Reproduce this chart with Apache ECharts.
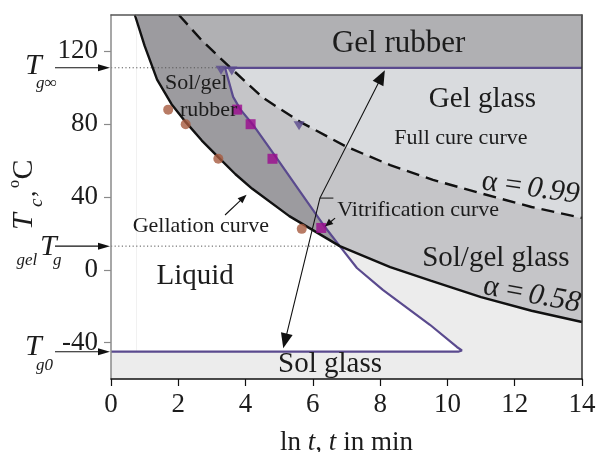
<!DOCTYPE html>
<html>
<head>
<meta charset="utf-8">
<script src="https://cdn.jsdelivr.net/npm/echarts@6.0.0/dist/echarts.min.js"></script>
<style>
  html, body { margin: 0; padding: 0; background: #ffffff; }
  #chart { width: 597px; height: 452px; }
</style>
</head>
<body>
<div id="chart"></div>
<script>
// ---- axis ticks ----
const xTicks = [0, 2, 4, 6, 8, 10, 12, 14];
const yTicks = [-40, 0, 40, 80, 120];

// ---- characteristic temperatures, °C ----
const T_GINF = 111;
const T_GEL = 13;
const T_G0 = -45;

// ---- curves: [ln t, T] ----
const gelationCurve = [
  [0.71, 140], [1.0, 123], [1.37, 104.5], [1.8, 91], [2.23, 81], [2.7, 71],
  [3.18, 62], [3.7, 52.5], [4.2, 44.5], [5.3, 29.5], [6.8, 13], [8.3, 1.5],
  [9.5, -6], [11.0, -15], [12.5, -22.5], [14, -28.7]
];
const fullCureCurve = [
  [2.02, 140], [2.7, 126], [3.55, 111], [4.52, 94.5], [5.62, 81.3], [7.0, 67.6],
  [8.3, 57.5], [9.57, 49.4], [11.0, 42], [12.5, 34.5], [14, 28.5]
];
const vitrificationCurve = [
  [14, 111], [3.39, 111], [3.63, 95], [3.85, 88], [4.25, 79], [4.92, 61.5],
  [5.62, 43], [6.36, 23.5], [6.8, 13], [7.31, 1], [8.08, -11], [8.59, -18],
  [9.48, -30.2], [10.28, -42.4], [10.43, -44.3], [10.32, -45], [0, -45]
];

// ---- measured points ----
const gelationPoints = [[1.70, 88], [2.22, 80], [3.19, 61], [5.67, 22.5]];
const vitrificationPoints = [[3.75, 88], [4.15, 80], [4.80, 61], [6.25, 23]];
const fullCurePoints = [[3.27, 109.6], [3.59, 109.2], [5.59, 79.2]];

// ---- look ----
const FONT = 'Liberation Serif';
const INK = '#1c1c1c';
const PURPLE = '#5a4a8e';

const chart = echarts.init(document.getElementById('chart'), null, { renderer: 'canvas' });

// where the curves meet
const same = (a, b) => a[0] === b[0] && a[1] === b[1];
const gi = gelationCurve.findIndex(p => vitrificationCurve.some(q => same(p, q)));
const vi = vitrificationCurve.findIndex(q => same(q, gelationCurve[gi]));
const ci = fullCureCurve.findIndex(p => p[1] === T_GINF);
const vitCorner = vitrificationCurve[1];

// phase regions
const regions = [
  { // between gelation and full cure
    color: '#c5c5c8',
    pts: [...fullCureCurve, ...gelationCurve.slice().reverse()]
  },
  { // gel glass
    color: '#d9dbde',
    pts: [...fullCureCurve.slice(ci), [14, T_GINF]]
  },
  { // gel rubber
    color: '#b0b0b3',
    pts: [...fullCureCurve.slice(0, ci + 1), [14, T_GINF], [14, 140]]
  },
  { // sol/gel rubber
    color: '#9c9b9f',
    pts: [
      ...gelationCurve.slice(0, gi + 1),
      ...vitrificationCurve.slice(1, vi + 1).reverse(),
      ...fullCureCurve.slice(0, ci + 1).reverse()
    ]
  },
  { // liquid
    color: '#ffffff',
    pts: [[0, 140], ...gelationCurve.slice(0, gi + 1), ...vitrificationCurve.slice(vi + 1)]
  }
];

const axisText = { color: INK, fontFamily: FONT, fontSize: 27 };

chart.setOption({
  animation: false,
  grid: {
    left: 111, right: 15, top: 15, bottom: 73,
    outerBoundsMode: 'none', containLabel: false,
    show: true, backgroundColor: '#ececec', borderWidth: 0
  },
  xAxis: [{
    type: 'value', min: 0, max: 14, interval: 2, position: 'bottom', z: 5,
    axisLine: { show: true, onZero: false, lineStyle: { color: '#111', width: 1.5 } },
    axisTick: { show: true, length: 7, customValues: xTicks, lineStyle: { color: '#111', width: 1.2 } },
    axisLabel: Object.assign({ show: true, margin: 12, customValues: xTicks }, axisText),
    splitLine: { show: false },
    name: '{r|ln }{i|t}{r|, }{i|t}{r| in min}',
    nameLocation: 'middle', nameGap: 50,
    nameTextStyle: {
      color: INK, fontFamily: FONT, fontSize: 27,
      rich: {
        r: { color: INK, fontFamily: FONT, fontSize: 27 },
        i: { color: INK, fontFamily: FONT, fontSize: 27, fontStyle: 'italic' }
      }
    }
  }, {
    type: 'value', min: 0, max: 14, position: 'top', z: 5,
    axisLine: { show: true, onZero: false, lineStyle: { color: '#555', width: 1.5 } },
    axisTick: { show: false }, axisLabel: { show: false }, splitLine: { show: false }
  }],
  yAxis: [{
    type: 'value', min: -60, max: 140, position: 'left', z: 5,
    axisLine: { show: true, onZero: false, lineStyle: { color: '#8a8a8a', width: 1.5 } },
    axisTick: { show: true, length: 7, customValues: yTicks, lineStyle: { color: '#8a8a8a', width: 1.2 } },
    axisLabel: Object.assign({ show: true, margin: 13, customValues: yTicks }, axisText),
    splitLine: { show: false }
  }, {
    type: 'value', min: -60, max: 140, position: 'right', z: 5,
    axisLine: { show: true, onZero: false, lineStyle: { color: '#333', width: 1.5 } },
    axisTick: { show: false }, axisLabel: { show: false }, splitLine: { show: false }
  }],
  series: [
    {
      type: 'custom', silent: true, z: 1,
      data: regions.map((r, i) => [i]),
      renderItem: (params, api) => {
        const r = regions[params.dataIndex];
        return {
          type: 'polygon',
          shape: { points: r.pts.map(p => api.coord(p)) },
          style: { fill: r.color, stroke: r.color, lineWidth: 0.6 }
        };
      }
    },
    { // faint guide
      type: 'line', silent: true, z: 2, symbol: 'none',
      data: [[0.76, T_G0], [0.76, 140]],
      lineStyle: { color: '#f1f1f1', width: 1 }
    },
    { // Tg∞ level
      type: 'line', silent: true, z: 2, symbol: 'none',
      data: [[0, T_GINF], [vitCorner[0], T_GINF]],
      lineStyle: { color: '#555', width: 1, type: [1.2, 2.4] }
    },
    { // gel Tg level
      type: 'line', silent: true, z: 2, symbol: 'none',
      data: [[0, T_GEL], [gelationCurve[gi][0], T_GEL]],
      lineStyle: { color: '#555', width: 1, type: [1.2, 2.4] }
    },
    {
      type: 'line', name: 'Vitrification curve', silent: true, z: 3, symbol: 'none',
      data: vitrificationCurve,
      lineStyle: { color: PURPLE, width: 2.2 }
    },
    {
      type: 'line', name: 'Gellation curve', silent: true, z: 3, symbol: 'none',
      data: gelationCurve,
      lineStyle: { color: '#111', width: 2.4 }
    },
    {
      type: 'line', name: 'Full cure curve', silent: true, z: 3, symbol: 'none',
      data: fullCureCurve,
      lineStyle: { color: '#111', width: 2.4, type: [13, 7] }
    },
    {
      type: 'scatter', silent: true, z: 4, symbol: 'circle', symbolSize: 10,
      data: gelationPoints, itemStyle: { color: '#a65a3e' }
    },
    {
      type: 'scatter', silent: true, z: 4, symbol: 'rect', symbolSize: 10,
      data: vitrificationPoints, itemStyle: { color: '#9b0a8f' }
    },
    {
      type: 'scatter', silent: true, z: 4, symbol: 'triangle', symbolRotate: 180, symbolSize: [11, 9],
      data: fullCurePoints, itemStyle: { color: PURPLE }
    }
  ]
});

// ---- annotations ----
const P = p => chart.convertToPixel({ xAxisIndex: 0, yAxisIndex: 0 }, p);

function txt(text, x, y, size, o = {}) {
  const align = o.align || 'center';
  return {
    type: 'text', x, y, z: 20, silent: true, rotation: o.rotation || 0,
    style: {
      text, fill: INK,
      font: (o.italic ? 'italic ' : '') + size + 'px "' + FONT + '"',
      align, textAlign: align, verticalAlign: 'middle', textVerticalAlign: 'middle'
    }
  };
}
function dataTxt(text, p, size, o) {
  const q = P(p);
  return txt(text, q[0], q[1], size, o);
}
function head(tip, from, len, halfW) {
  const dx = tip[0] - from[0], dy = tip[1] - from[1];
  const d = Math.hypot(dx, dy), ux = dx / d, uy = dy / d;
  const bx = tip[0] - ux * len, by = tip[1] - uy * len;
  return {
    base: [bx + ux * 1, by + uy * 1],
    el: {
      type: 'polygon', z: 20, silent: true,
      shape: { points: [tip, [bx - uy * halfW, by + ux * halfW], [bx + uy * halfW, by - ux * halfW]] },
      style: { fill: '#111' }
    }
  };
}
function arrow(pts, len, halfW, both) {
  const out = [];
  const line = pts.slice();
  const h1 = head(pts[pts.length - 1], pts[pts.length - 2], len, halfW);
  line[line.length - 1] = h1.base;
  out.push(h1.el);
  if (both) {
    const h0 = head(pts[0], pts[1], len, halfW);
    line[0] = h0.base;
    out.push(h0.el);
  }
  out.push({ type: 'polyline', z: 20, silent: true, shape: { points: line }, style: { stroke: '#111', lineWidth: 1.1, fill: null } });
  return out;
}

// path of the cure schedule arrow and leader arrows, in data units
const scheduleArrow = [[5.12, -43.1], [6.21, 39.4], [8.14, 109.7]];
const gelLeader = [[3.39, 30.1], [4.03, 41.3]];
const vitLeader = [[6.66, 28.4], [6.36, 23.8]];
const kinkTick = [[6.21, 39.4], [6.61, 39.4]];

const g = [];
g.push(...arrow(scheduleArrow.map(P), 15, 6, true));
g.push(...arrow(gelLeader.map(P), 9, 3.5, false));
g.push(...arrow(vitLeader.map(P), 8, 3.5, false));
g.push({ type: 'polyline', z: 20, silent: true, shape: { points: kinkTick.map(P) }, style: { stroke: '#111', lineWidth: 1, fill: null } });

// temperature markers left of the axis
const axisX = P([0, 0])[0];
[T_GINF, T_GEL, T_G0].forEach(T => {
  const y = P([0, T])[1];
  g.push(...arrow([[axisX - 56, y], [axisX - 1, y]], 12, 3.5, false));
});

// region and curve names
g.push(dataTxt('Gel rubber', [8.55, 124.0], 31));
g.push(dataTxt('Gel glass', [11.04, 93.8], 29));
g.push(dataTxt('Full cure curve', [10.40, 72.3], 22));
g.push(dataTxt('Vitrification curve', [9.13, 32.9], 22));
g.push(dataTxt('Gellation curve', [2.67, 23.9], 22));
g.push(dataTxt('Sol/gel', [1.605, 102.5], 22, { align: 'left' }));
g.push(dataTxt('rubber', [2.05, 87.9], 22, { align: 'left' }));
g.push(dataTxt('Liquid', [2.50, -3.5], 29));
g.push(dataTxt('Sol/gel glass', [11.44, 6.5], 29));
g.push(dataTxt('Sol glass', [6.51, -52.2], 29));

// conversion labels along the curves
function alphaLabel(value, p, deg) {
  const q = P(p);
  return {
    type: 'group', x: q[0], y: q[1], rotation: -deg * Math.PI / 180, z: 20, silent: true,
    children: [
      txt('α =', 0, 0, 30, { align: 'left' }),
      txt(value, 46, 0, 30, { align: 'left', italic: true })
    ]
  };
}
g.push(alphaLabel('0.99', [11.02, 48.6], 8));
g.push(alphaLabel('0.58', [11.07, -8.9], 10.5));

// temperature symbols
g.push(txt('T', 25, 66, 30, { align: 'left', italic: true }));
g.push(txt('g∞', 36, 84, 17, { align: 'left', italic: true }));
g.push(txt('gel', 16.5, 261, 17, { align: 'left', italic: true }));
g.push(txt('T', 40, 247, 30, { align: 'left', italic: true }));
g.push(txt('g', 53, 261, 17, { align: 'left', italic: true }));
g.push(txt('T', 25, 347.5, 30, { align: 'left', italic: true }));
g.push(txt('g0', 36, 366, 17, { align: 'left', italic: true }));

// vertical axis title: T_c, °C
const R = Math.PI / 2;
g.push(txt('T', 24, 230, 30, { align: 'left', italic: true, rotation: R }));
g.push(txt('c', 36.5, 207, 19, { align: 'left', italic: true, rotation: R }));
g.push(txt(',', 27.7, 197, 26, { align: 'left', rotation: R }));
g.push(txt('o', 15.2, 188, 16, { align: 'left', rotation: R }));
g.push(txt('C', 24, 179.5, 30, { align: 'left', rotation: R }));

chart.setOption({ graphic: g });
</script>
</body>
</html>
